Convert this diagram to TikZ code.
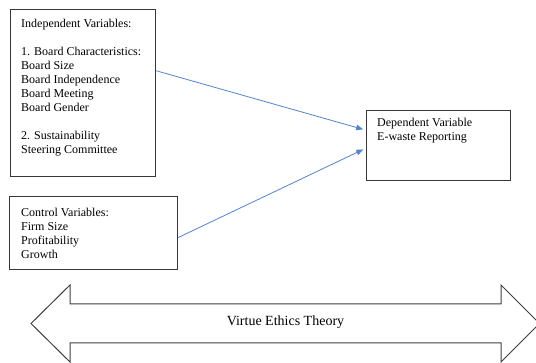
\documentclass[tikz,border=0pt]{standalone}
\usepackage{fontspec}
\setmainfont{Liberation Serif}
\usetikzlibrary{arrows.meta}
\definecolor{linkblue}{RGB}{84,132,208}
\definecolor{boxgray}{RGB}{55,55,55}
\tikzset{
  box/.style={draw=boxgray, line width=1.2pt, rectangle, inner sep=0pt, anchor=north west},
  txt/.style={inner sep=0pt, anchor=north west, align=left, font=\fontsize{12}{14}\selectfont, text=black},
  link/.style={draw=linkblue, line width=0.8pt, -{Triangle[length=7pt,width=5.5pt]}, shorten >=3pt},
  bigarrow/.style={draw=black!75, line width=1pt, fill=white}
}
\begin{document}
\begin{tikzpicture}[x=1pt,y=-1pt]
\useasboundingbox (0,0) rectangle (536,363);
\clip (0,0) rectangle (536,363);
\fill[white] (0,0) rectangle (536,363);
% boxes
\node[box, minimum width=145pt, minimum height=167pt] (b1) at (10,9) {};
\node[box, minimum width=168pt, minimum height=73pt] (b2) at (9,196) {};
\node[box, minimum width=144pt, minimum height=70pt] (b3) at (366,110) {};
% texts
\node[txt] (t1) at (21,19) {Independent Variables:\\[14pt]
1. Board Characteristics:\\
Board Size\\
Board Independence\\
Board Meeting\\
Board Gender\\[14pt]
2. Sustainability\\
Steering Committee};
\node[txt] (t2) at (21,208) {Control Variables:\\
Firm Size\\
Profitability\\
Growth};
\node[txt] (t3) at (377,118) {Dependent Variable\\
E-waste Reporting};
% connectors
\draw[link] (b1.17.24) -- (b3.168.2);
\draw[link] (b2.-3.75) -- (b3.182.4);
% double arrow
\draw[bigarrow] (31,323.5) -- (70,285) -- (70,304) -- (501,304) -- (501,285)
  -- (539.5,323.5) -- (501,362) -- (501,343) -- (70,343) -- (70,362) -- cycle;
\node[font=\fontsize{14}{16}\selectfont, text=black, inner sep=0pt] (theory) at (285.5,322) {Virtue Ethics Theory};
\end{tikzpicture}
\end{document}
